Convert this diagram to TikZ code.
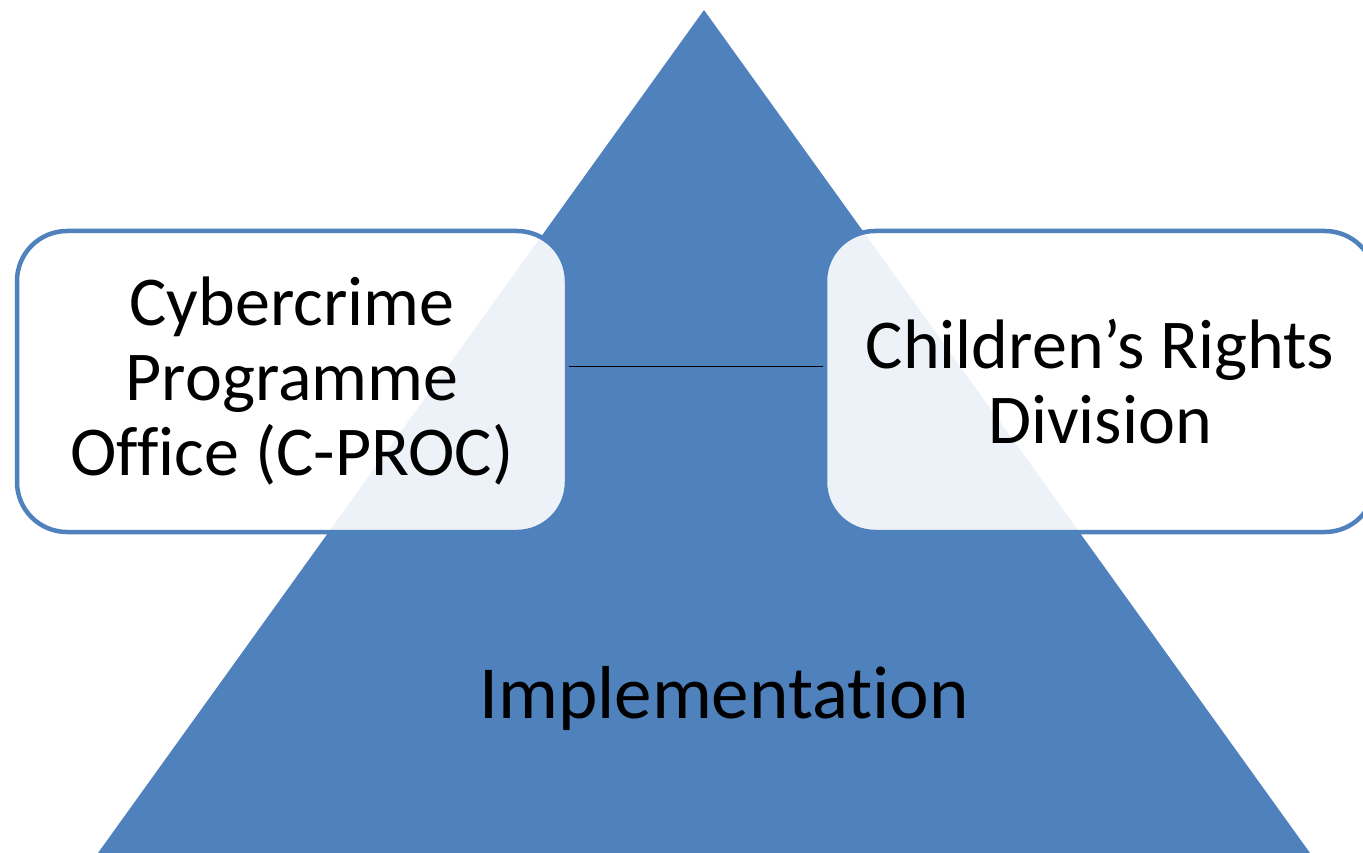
\documentclass[tikz,border=0pt]{standalone}
\usepackage{fontspec}
\setmainfont[Ligatures=NoCommon]{Carlito}
\usetikzlibrary{positioning}
\definecolor{pyrblue}{HTML}{4F81BD}
\tikzset{
  unitbox/.style={draw=pyrblue, line width=4.5pt, fill=white, fill opacity=0.9,
    text opacity=1, rounded corners=50pt, minimum width=550pt,
    minimum height=301pt, inner sep=0pt, align=center,
    font=\fontsize{70}{75}\selectfont},
}
\begin{document}
\begin{tikzpicture}[x=1pt, y=-1pt]
        \useasboundingbox (0,0) rectangle (1363,853);
        \clip (0,0) rectangle (1363,853);
        \coordinate (apex) at (704,10);
        \fill[pyrblue] (apex) -- (1310,853) -- (98,853) -- cycle;
        \node[font=\fontsize{75}{80}\selectfont, anchor=base] (impl) at (724,718) {Implementation};
        \node[unitbox] (cproc) at (292,381.5) {Cybercrime\\Programme\\Office (C-PROC)};
        \node[unitbox] (crd) at (1100,381.5) {Children’s Rights\\Division};
        \draw[line width=1.6pt] (cproc.east |- 0,366.5) -- (crd.west |- 0,366.5);
    \end{tikzpicture}
\end{document}
